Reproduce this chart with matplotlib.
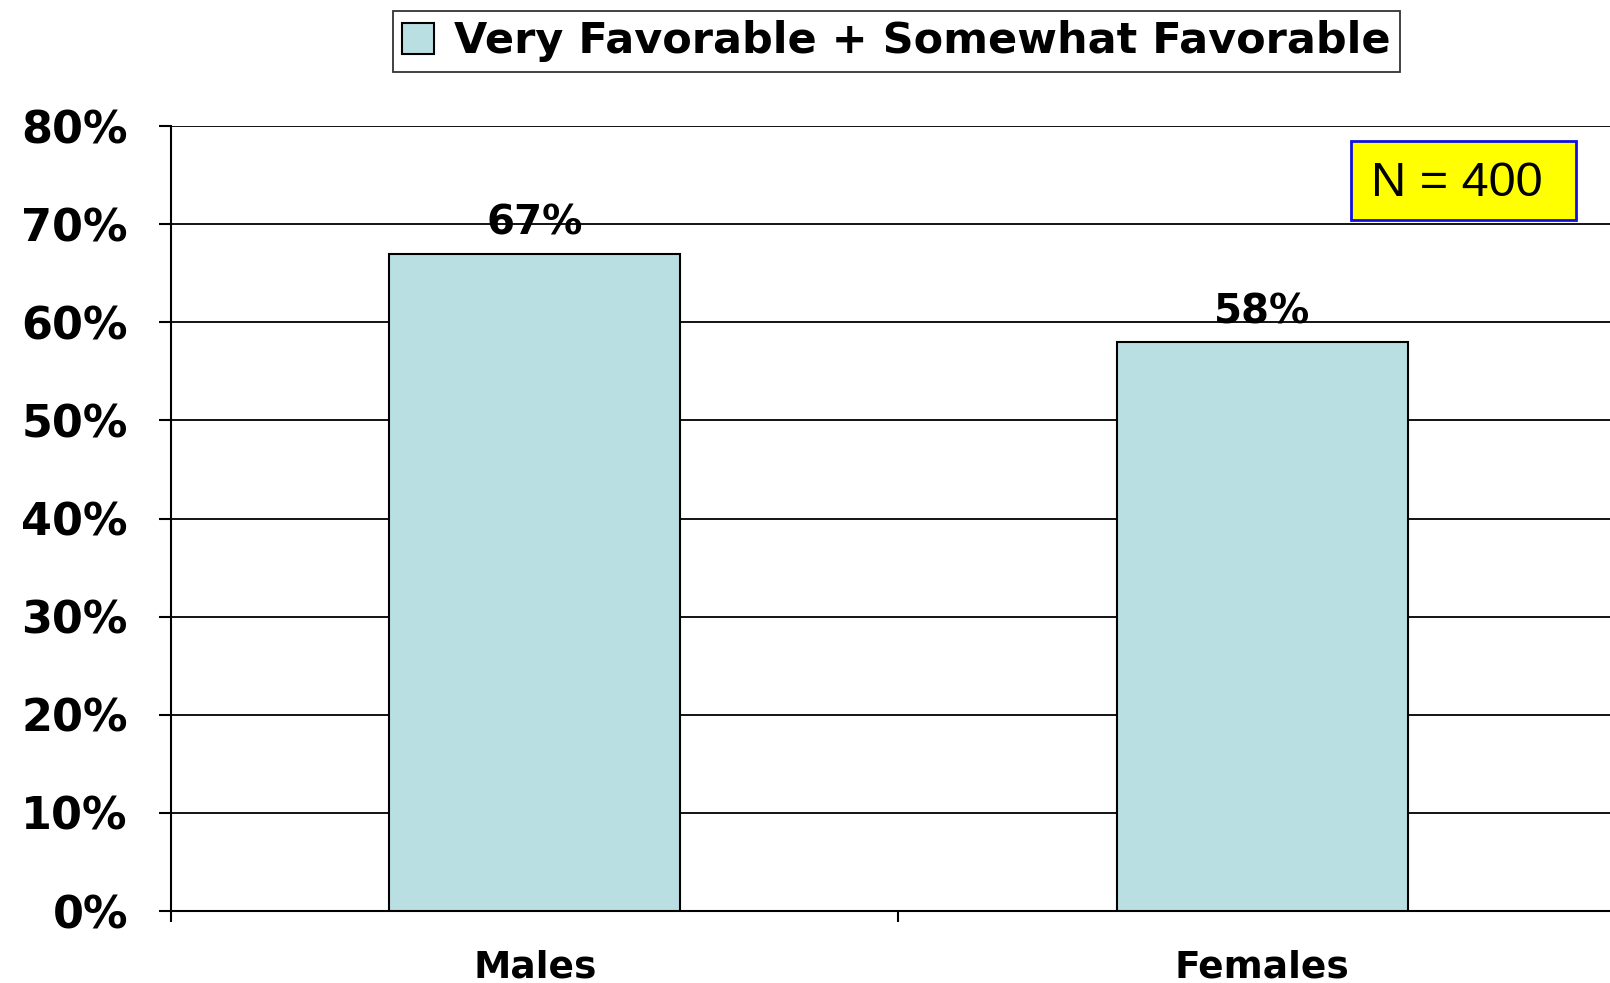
import numpy as np
import matplotlib.pyplot as plt
from matplotlib.patches import Rectangle
from matplotlib.ticker import FixedLocator, PercentFormatter

# Dados do gráfico
categorias = ['Males', 'Females']
favoravel = [67, 58]
legenda = 'Very Favorable + Somewhat Favorable'
amostra = 'N = 400'
ticks_y = [0, 10, 20, 30, 40, 50, 60, 70, 80]

cor_barra = '#BADFE2'
fonte = 'DejaVu Sans'

fig = plt.figure(figsize=(16.1, 9.83), dpi=100)
ax = fig.add_axes([0.1062, 0.0732, 0.9037, 0.7986])

x = np.arange(len(categorias))
barras = ax.bar(x, favoravel, width=0.4, color=cor_barra, edgecolor='black',
                linewidth=1.5, label=legenda, zorder=3)

# Rótulos de valor acima das barras
for xi, v in zip(x, favoravel):
    ax.annotate(f'{v}%', (xi, v), xytext=(0, 7), textcoords='offset points',
                ha='center', va='bottom', fontsize=29, fontweight='bold',
                family=fonte, zorder=4)

ax.set_xlim(-0.5, 1.5)
ax.set_ylim(0, 80)
ax.set_yticks(ticks_y)
ax.yaxis.set_major_formatter(PercentFormatter(decimals=0))
ax.yaxis.grid(True, color='black', linewidth=1.3, zorder=1)
ax.set_axisbelow(True)

# Marcas do eixo x entre as categorias, rótulos no centro das barras
ax.xaxis.set_major_locator(FixedLocator([-0.5, 0.5, 1.5]))
ax.xaxis.set_major_formatter(plt.NullFormatter())
ax.xaxis.set_minor_locator(FixedLocator(x))
ax.set_xticklabels(categorias, minor=True)
ax.tick_params(axis='x', which='major', direction='out', length=8, width=1.5)
ax.tick_params(axis='x', which='minor', length=0, pad=28, labelsize=27)
ax.tick_params(axis='y', direction='out', length=9, width=1.5, pad=22,
               labelsize=32)
for lbl in ax.get_yticklabels() + ax.get_xticklabels(minor=True):
    lbl.set_fontweight('bold')
    lbl.set_family(fonte)

for lado in ['top', 'right']:
    ax.spines[lado].set_visible(False)
ax.spines['left'].set_linewidth(1.5)
ax.spines['bottom'].set_linewidth(1.5)

# Legenda no topo
leg = fig.legend(handles=[barras], labels=[legenda], loc='center',
                 bbox_to_anchor=(0.5567, 0.958), frameon=True, fancybox=False,
                 edgecolor='black', handlelength=0.75, handleheight=0.75,
                 handletextpad=0.45, borderpad=0.22,
                 prop={'family': fonte, 'weight': 'bold', 'size': 31})
leg.get_frame().set_linewidth(1.3)

# Caixa com o tamanho da amostra
caixa = Rectangle((0.839, 0.7762), 0.1398, 0.0804, transform=fig.transFigure,
                  facecolor='yellow', edgecolor='#1010E0', linewidth=2,
                  zorder=5)
fig.add_artist(caixa)
fig.text(0.839 + 0.1398 / 2 - 0.004, 0.7762 + 0.0804 / 2 - 0.003, amostra,
         ha='center', va='center', fontsize=35, family='Liberation Sans',
         zorder=6)

fig.savefig('out.png', dpi=100)
